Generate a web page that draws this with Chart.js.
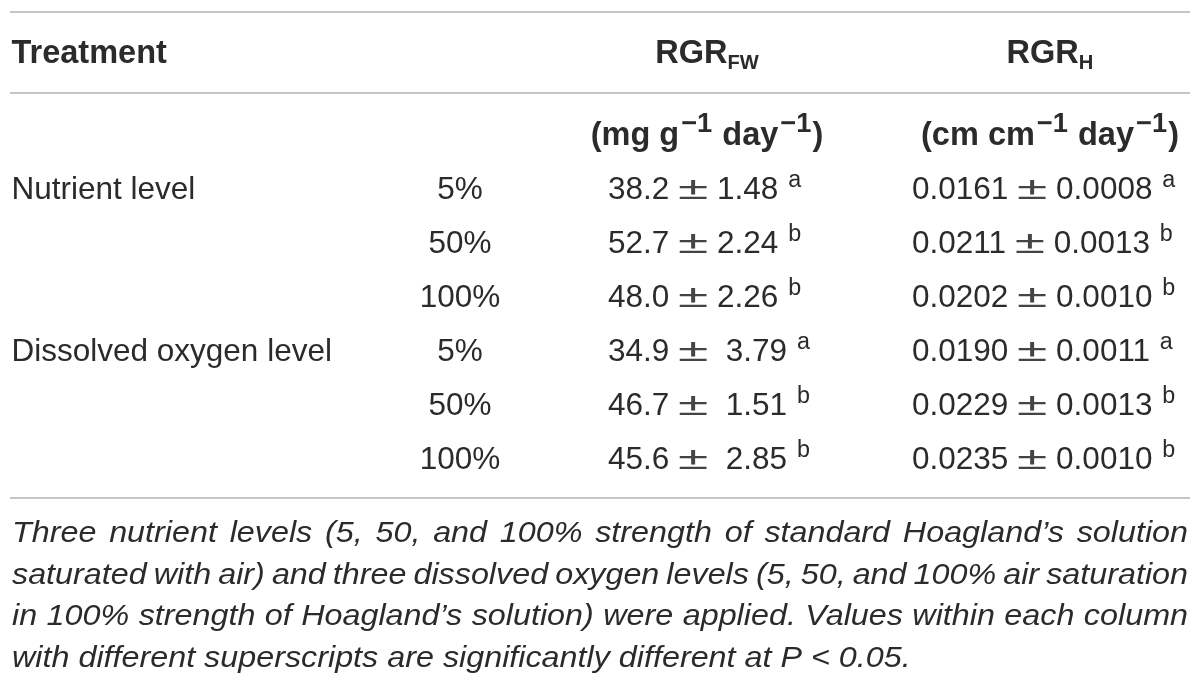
<!DOCTYPE html>
<html><head><meta charset="utf-8">
<script src="https://cdn.jsdelivr.net/npm/chart.js@4.4.0/dist/chart.umd.min.js"></script>
<style>html,body{margin:0;padding:0;background:#fff;overflow:hidden}#wrap{width:1200px;height:689px;position:relative}</style>
</head><body><div id="wrap"><canvas id="c"></canvas></div>
<script>
// ---- data ----
const treatments = ['Nutrient level', '', '', 'Dissolved oxygen level', '', ''];
const levels = ['5%', '50%', '100%', '5%', '50%', '100%'];
const groups = [0, 0, 0, 1, 1, 1];
const rgrFwMean = [38.2, 52.7, 48.0, 34.9, 46.7, 45.6];
const rgrFwSE = [1.48, 2.24, 2.26, 3.79, 1.51, 2.85];
const rgrFwLetter = ['a', 'b', 'b', 'a', 'b', 'b'];
const rgrHMean = [0.0161, 0.0211, 0.0202, 0.0190, 0.0229, 0.0235];
const rgrHSE = [0.0008, 0.0013, 0.0010, 0.0011, 0.0013, 0.0010];
const rgrHLetter = ['a', 'b', 'b', 'a', 'b', 'b'];
const headerLabels = ['Treatment', 'RGR', 'RGR'];
const headerSubs = ['', 'FW', 'H'];
const unitsFw = [['(mg g', ''], ['\u22121', 'usup'], [' day', ''], ['\u22121', 'usup'], [')', '']];
const unitsH = [['(cm cm', ''], ['\u22121', 'usup'], [' day', ''], ['\u22121', 'usup'], [')', '']];
const captionLines = [
  'Three nutrient levels (5, 50, and 100% strength of standard Hoagland\u2019s solution',
  'saturated with air) and three dissolved oxygen levels (5, 50, and 100% air saturation',
  'in 100% strength of Hoagland\u2019s solution) were applied. Values within each column',
  'with different superscripts are significantly different at P < 0.05.'
];

// ---- layout (positions / styles) ----
const FAMILY = '"Liberation Sans", Arial, Helvetica, sans-serif';
const TEXT = '#2b2b2b';
const PM_COLOR = '#444';
const RULE = '#c6c6c6';
const L = {
  rules: [12, 93, 498], ruleX0: 10, ruleX1: 1190,
  headerBase: 63, unitsBase: 145,
  rowBase0: 199, rowStep: 54,
  colTreat: 11.5, colLevel: 460, colFw: 608, colH: 912,
  headFwC: 707, headHC: 1050,
  capBase0: 542, capStep: 41.7, capX0: 12, capX1: 1188,
  size: 31.5, boldSize: 32.5, capSize: 29.5, capScaleX: 1.095
};

function fontStr(style, weight, size) {
  return `${style} ${weight} ${size}px ${FAMILY}`;
}
function runsLayout(ctx, runs, base) {
  return runs.map(([t, kind]) => {
    let size = base.size, dy = 0, sx = 1, padL = 0, padR = 0, color = TEXT;
    if (kind === 'sup') { size = base.size * 0.74; dy = -base.size * 0.39; padL = 1; }
    if (kind === 'usup') { size = base.size * 0.84; dy = -base.size * 0.4; padL = 2; padR = 1; }
    if (kind === 'sub') { size = base.size * 0.62; dy = base.size * 0.19; }
    if (kind === 'pm') { sx = 1.75; color = PM_COLOR; }
    const f = fontStr(base.style || 'normal', base.weight || 'normal', size);
    ctx.font = f;
    const w = ctx.measureText(t).width * sx + padL + padR;
    return { t, f, w, dy, sx, padL, color };
  });
}
function drawRuns(ctx, runs, x, y, align, base) {
  const lay = runsLayout(ctx, runs, base);
  const total = lay.reduce((s, r) => s + r.w, 0);
  let cx = align === 'center' ? x - total / 2 : align === 'right' ? x - total : x;
  ctx.textAlign = 'left';
  ctx.textBaseline = 'alphabetic';
  for (const r of lay) {
    ctx.font = r.f;
    ctx.fillStyle = r.color;
    if (r.sx !== 1) {
      ctx.save();
      ctx.translate(cx + r.padL, y + r.dy);
      ctx.scale(r.sx, 1);
      ctx.fillText(r.t, 0, 0);
      ctx.restore();
    } else {
      ctx.fillText(r.t, cx + r.padL, y + r.dy);
    }
    cx += r.w;
  }
}

const rulesDatasets = L.rules.map(yv => ({
  data: [{ x: L.ruleX0, y: yv }, { x: L.ruleX1, y: yv }],
  showLine: true, borderColor: RULE, borderWidth: 2, pointRadius: 0, fill: false
}));

const tablePlugin = {
  id: 'tableText',
  afterDatasetsDraw(chart) {
    const ctx = chart.ctx;
    const xs = chart.scales.x, ys = chart.scales.y;
    const X = v => xs.getPixelForValue(v), Y = v => ys.getPixelForValue(v);
    const base = { size: L.size, weight: 'normal', style: 'normal' };
    const bold = { size: L.boldSize, weight: 'bold', style: 'normal' };
    ctx.save();
    // header
    drawRuns(ctx, [[headerLabels[0], '']], X(L.colTreat), Y(L.headerBase), 'left', bold);
    drawRuns(ctx, [[headerLabels[1], ''], [headerSubs[1], 'sub']], X(L.headFwC), Y(L.headerBase), 'center', bold);
    drawRuns(ctx, [[headerLabels[2], ''], [headerSubs[2], 'sub']], X(L.headHC), Y(L.headerBase), 'center', bold);
    // units
    drawRuns(ctx, unitsFw, X(L.headFwC), Y(L.unitsBase), 'center', bold);
    drawRuns(ctx, unitsH, X(L.headHC), Y(L.unitsBase), 'center', bold);
    // rows
    for (let i = 0; i < levels.length; i++) {
      const yb = Y(L.rowBase0 + i * L.rowStep);
      if (treatments[i]) drawRuns(ctx, [[treatments[i], '']], X(L.colTreat), yb, 'left', base);
      drawRuns(ctx, [[levels[i], '']], X(L.colLevel), yb, 'center', base);
      const gap = groups[i] === 1 ? '  ' : ' ';
      drawRuns(ctx, [[rgrFwMean[i].toFixed(1) + ' ', ''], ['\u00b1', 'pm'], [gap + rgrFwSE[i].toFixed(2) + ' ', ''], [rgrFwLetter[i], 'sup']], X(L.colFw), yb, 'left', base);
      drawRuns(ctx, [[rgrHMean[i].toFixed(4) + ' ', ''], ['\u00b1', 'pm'], [' ' + rgrHSE[i].toFixed(4) + ' ', ''], [rgrHLetter[i], 'sup']], X(L.colH), yb, 'left', base);
    }
    // caption (justified, slightly widened glyphs)
    ctx.fillStyle = TEXT;
    ctx.textBaseline = 'alphabetic';
    ctx.textAlign = 'left';
    ctx.font = fontStr('italic', 'normal', L.capSize);
    const sx = L.capScaleX;
    const x0 = X(L.capX0), x1 = X(L.capX1);
    captionLines.forEach((line, k) => {
      const yb = Y(L.capBase0 + k * L.capStep);
      const words = line.split(' ');
      const last = k === captionLines.length - 1;
      const spaceW = ctx.measureText(' ').width * sx;
      const ws = words.map(w => ctx.measureText(w).width * sx);
      const sum = ws.reduce((a, b) => a + b, 0);
      const gap = last ? spaceW : (x1 - x0 - sum) / (words.length - 1);
      let cx = x0;
      words.forEach((w, j) => {
        ctx.save();
        ctx.translate(cx, yb);
        ctx.scale(sx, 1);
        ctx.fillText(w, 0, 0);
        ctx.restore();
        cx += ws[j] + gap;
      });
    });
    ctx.restore();
  }
};

new Chart(document.getElementById('c'), {
  type: 'scatter',
  data: { datasets: rulesDatasets },
  options: {
    responsive: true, maintainAspectRatio: false, animation: false,
    layout: { padding: 0 },
    plugins: { legend: { display: false }, tooltip: { enabled: false } },
    scales: {
      x: { type: 'linear', min: 0, max: 1200, display: false },
      y: { type: 'linear', min: 0, max: 689, reverse: true, display: false }
    }
  },
  plugins: [tablePlugin]
});
</script></body></html>
